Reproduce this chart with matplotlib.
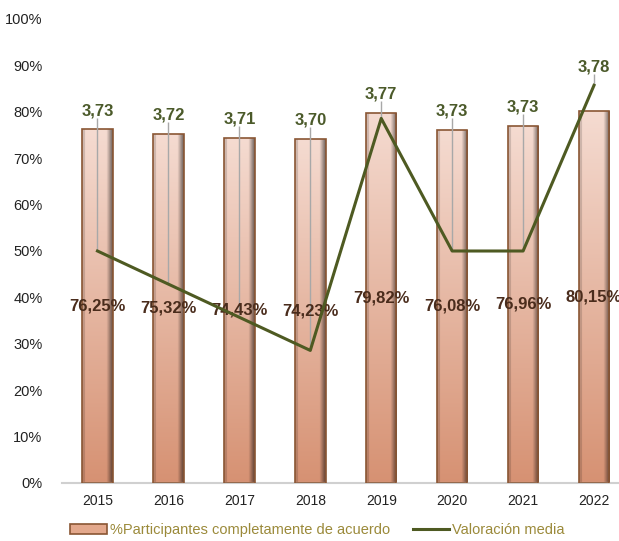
import numpy as np
import matplotlib
matplotlib.use("Agg")
from matplotlib import pyplot as plt
from matplotlib.lines import Line2D
from matplotlib.patches import Patch

years = ['2015', '2016', '2017', '2018', '2019', '2020', '2021', '2022']
pct_acuerdo = [76.25, 75.32, 74.43, 74.23, 79.82, 76.08, 76.96, 80.15]
valoracion = [3.73, 3.72, 3.71, 3.70, 3.77, 3.73, 3.73, 3.78]
pct_labels = ['76,25%', '75,32%', '74,43%', '74,23%', '79,82%', '76,08%', '76,96%', '80,15%']
val_labels = ['3,73', '3,72', '3,71', '3,70', '3,77', '3,73', '3,73', '3,78']

plt.rcParams['font.family'] = ['Liberation Sans', 'DejaVu Sans']

# secondary scale range (hidden axis)
v_min, v_max = 3.66, 3.80

fig = plt.figure(figsize=(6.19, 5.41), dpi=100)
ax = fig.add_axes([62 / 619, 58 / 541, 567.5 / 619, 464 / 541])
x = np.arange(len(years))
bar_w = 0.43

# gradient image for bars: light pink at top, salmon at bottom, darker right edge
n_v, n_h = 200, 40
top_c = np.array([0.96, 0.86, 0.82])
bot_c = np.array([0.84, 0.57, 0.45])
t = np.linspace(0, 1, n_v)[:, None]
col = top_c * (1 - t) + bot_c * t
hx = np.linspace(0, 1, n_h)
shade = np.ones(n_h)
shade[hx > 0.8] = 1 - (hx[hx > 0.8] - 0.8) / 0.2 * 0.55
shade[hx < 0.08] = 0.85
grad = col[:, None, :] * shade[None, :, None]

bars = ax.bar(x, pct_acuerdo, width=bar_w, color='none', edgecolor='#8a5634', linewidth=1.2, zorder=3)
for b in bars:
    x0, y0 = b.get_x(), b.get_y()
    w, h = b.get_width(), b.get_height()
    im = ax.imshow(grad, extent=[x0, x0 + w, y0, y0 + h], aspect='auto', origin='upper', zorder=2)
    im.set_clip_path(b)

# line value expressed on the primary scale
val_on_pct = [(v - v_min) / (v_max - v_min) * 100 for v in valoracion]

for i in range(len(years)):
    lab_y = max(pct_acuerdo[i], val_on_pct[i]) + 4
    ax.vlines(x[i], val_on_pct[i], lab_y - 1.5, color='#a8a8a8', linewidth=1, zorder=4)
    ax.text(x[i], lab_y, val_labels[i], ha='center', va='center', fontsize=12,
            fontweight='bold', color='#4b5a2a', zorder=6)
    ax.text(x[i], pct_acuerdo[i] / 2, pct_labels[i], ha='center', va='center', fontsize=12,
            fontweight='bold', color='#4a2c1c', zorder=6)

ax2 = ax.twinx()
ax2.plot(x, valoracion, color='#4e5a22', linewidth=2.2, zorder=5)
ax2.set_ylim(v_min, v_max)
ax2.axis('off')

ax.set_xlim(-0.5, len(years) - 0.5)
ax.set_ylim(0, 100)
ax.set_yticks(np.arange(0, 101, 10))
ax.set_yticklabels([f'{v}%' for v in range(0, 101, 10)], fontsize=10.5, color='#222222')
ax.set_xticks(x)
ax.set_xticklabels(years, fontsize=10, color='#222222')
ax.tick_params(axis='both', length=0)
ax.tick_params(axis='y', pad=14)
ax.tick_params(axis='x', pad=8)
for s in ['top', 'right', 'left']:
    ax.spines[s].set_visible(False)
ax.spines['bottom'].set_color('#d0d0d0')
ax.spines['bottom'].set_linewidth(1.5)

handles = [Patch(facecolor='#e3a88c', edgecolor='#8a5634', linewidth=1.2),
           Line2D([0], [0], color='#4e5a22', linewidth=2.2)]
leg = fig.legend(handles, ['%Participantes completamente de acuerdo', 'Valoración media'],
                 loc='center', bbox_to_anchor=(0.513, 0.02), ncol=2, frameon=False,
                 fontsize=10.5, handlelength=2.5, handletextpad=0.2, columnspacing=1.6)
for txt in leg.get_texts():
    txt.set_color('#9b8a3a')

fig.savefig('out.png', dpi=100)
